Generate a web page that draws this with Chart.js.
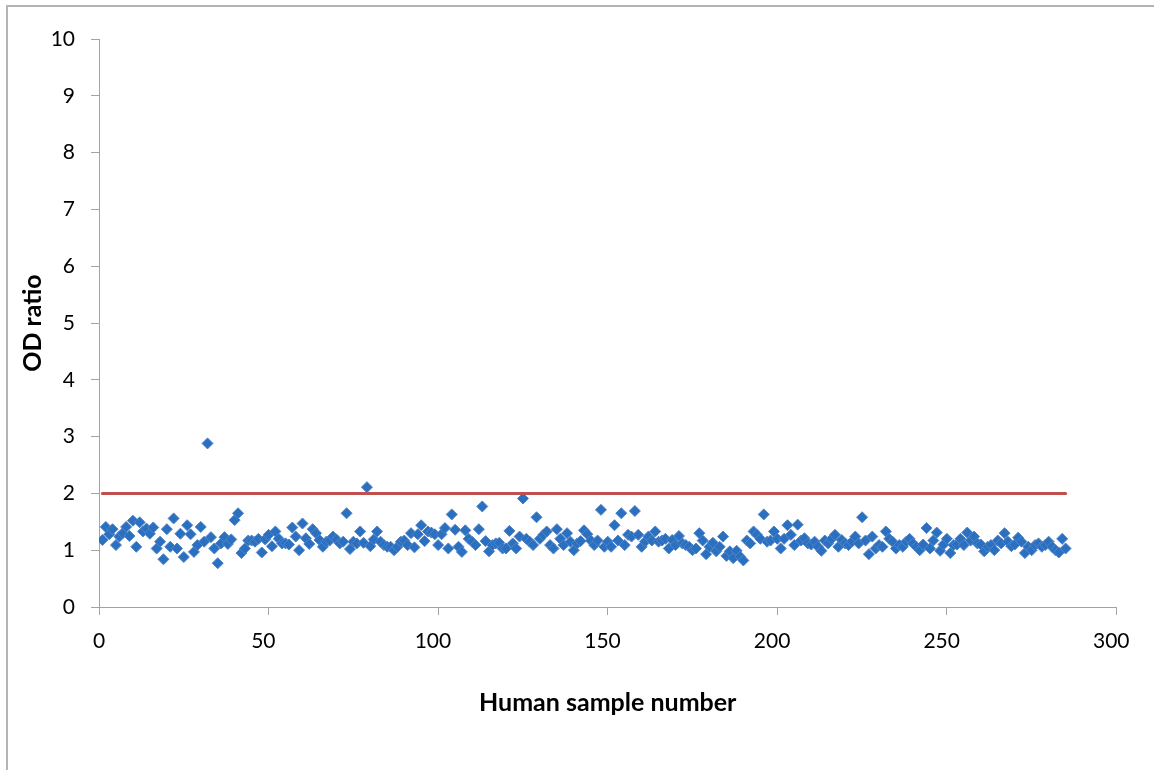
<!DOCTYPE html>
<html>
<head>
<meta charset="utf-8">
<script src="https://cdn.jsdelivr.net/npm/chart.js@4.4.1/dist/chart.umd.min.js"></script>
<style>
  html, body { margin: 0; padding: 0; background: #ffffff; }
  #wrap { width: 1154px; height: 770px; position: relative; }
</style>
</head>
<body>
<div id="wrap"><canvas id="c" width="1154" height="770"></canvas></div>
<script>
// ---- data ----
const odRatio = [
  1.18,1.41,1.28,1.37,1.09,1.24,1.30,1.41,1.25,1.52,1.06,1.49,1.33,1.38,1.29,1.40,1.03,1.15,0.84,1.37,1.06,1.56,1.03,1.29,0.88,1.44,1.28,0.97,1.09,
  1.41,1.15,2.88,1.23,1.03,0.77,1.12,1.23,1.11,1.19,1.53,1.65,0.95,1.03,1.17,1.17,1.15,1.20,0.96,1.19,1.27,1.07,1.33,1.20,1.12,1.12,1.10,1.40,1.24,1.00,
  1.47,1.21,1.11,1.37,1.30,1.18,1.06,1.15,1.17,1.24,1.19,1.12,1.15,1.65,1.02,1.15,1.12,1.33,1.13,2.11,1.07,1.19,1.33,1.15,1.09,1.06,1.06,1.00,1.06,
  1.15,1.17,1.09,1.30,1.05,1.28,1.44,1.16,1.33,1.31,1.28,1.09,1.28,1.39,1.03,1.63,1.36,1.06,0.97,1.35,1.20,1.15,1.09,1.37,1.77,1.16,0.98,1.09,1.12,1.13,
  1.03,1.03,1.34,1.12,1.03,1.24,1.91,1.20,1.15,1.09,1.58,1.20,1.27,1.33,1.09,1.03,1.37,1.20,1.09,1.30,1.15,1.00,1.12,1.16,1.35,1.28,1.17,1.09,1.17,
  1.71,1.06,1.15,1.06,1.44,1.17,1.65,1.09,1.27,1.24,1.69,1.27,1.06,1.15,1.24,1.17,1.33,1.15,1.17,1.20,1.03,1.18,1.09,1.25,1.12,1.09,1.06,1.00,1.03,1.30,
  1.17,0.93,1.06,1.13,0.98,1.06,1.24,0.90,0.98,0.86,0.99,0.89,0.82,1.17,1.12,1.33,1.27,1.20,1.63,1.15,1.17,1.33,1.20,1.03,1.20,1.44,1.27,1.09,1.45,
  1.17,1.21,1.12,1.10,1.15,1.06,0.99,1.17,1.12,1.20,1.27,1.06,1.18,1.12,1.09,1.15,1.24,1.12,1.58,1.17,0.93,1.24,1.03,1.09,1.06,1.33,1.20,1.15,1.03,1.09,
  1.06,1.15,1.20,1.12,1.06,1.00,1.10,1.39,1.03,1.17,1.31,0.99,1.10,1.20,0.95,1.09,1.10,1.20,1.09,1.31,1.17,1.24,1.12,1.10,0.98,1.06,1.09,1.00,1.17,
  1.12,1.30,1.15,1.07,1.10,1.22,1.15,0.95,1.06,1.00,1.09,1.12,1.06,1.09,1.15,1.06,1.00,0.96,1.20,1.03
];
const firstSample = 1;
const cutoffValue = 2;
const cutoffRange = [1, odRatio.length];
const xTicks = [0, 50, 100, 150, 200, 250, 300];
const yTicks = [0, 1, 2, 3, 4, 5, 6, 7, 8, 9, 10];
const xTitle = 'Human sample number';
const yTitle = 'OD ratio';

// ---- build library structures ----
const scatterPoints = odRatio.map((v, i) => ({ x: firstSample + i, y: v }));
const cutoffPoints = cutoffRange.map(x => ({ x: x, y: cutoffValue }));

const FONT = 'Lato, "Open Sans", "DejaVu Sans", sans-serif';
const AXIS_GRAY = '#a3a3a3';

const frame = {
  id: 'frame',
  beforeDraw(chart) {
    const ctx = chart.ctx;
    ctx.save();
    ctx.fillStyle = '#ffffff';
    ctx.fillRect(0, 0, chart.width, chart.height);
    ctx.strokeStyle = '#b4b4b4';
    ctx.lineWidth = 2;
    ctx.beginPath();
    ctx.moveTo(7, 770);
    ctx.lineTo(7, 6);
    ctx.lineTo(1154, 6);
    ctx.stroke();
    ctx.restore();
  }
};

new Chart(document.getElementById('c'), {
  type: 'scatter',
  data: {
    datasets: [
      {
        type: 'line',
        label: 'cutoff',
        data: cutoffPoints,
        borderColor: '#c0504d',
        borderWidth: 3,
        borderCapStyle: 'round',
        pointRadius: 0,
        fill: false
      },
      {
        label: 'OD ratio',
        data: scatterPoints,
        pointStyle: 'rectRot',
        pointRadius: 5.5,
        backgroundColor: '#2a6fc0',
        borderColor: '#4f85c6',
        borderWidth: 1
      }
    ]
  },
  options: {
    responsive: false,
    animation: false,
    devicePixelRatio: 1,
    layout: { padding: { left: 0, top: 39, right: 37, bottom: 0 } },
    plugins: { legend: { display: false }, tooltip: { enabled: false } },
    scales: {
      x: {
        type: 'linear',
        min: 0, max: 300,
        afterBuildTicks(scale) { scale.ticks = xTicks.map(v => ({ value: v })); },
        afterFit(scale) { scale.height = 163; },
        grid: { display: true, drawOnChartArea: false, drawTicks: true, tickLength: 8, color: AXIS_GRAY },
        border: { display: true, color: AXIS_GRAY, width: 1 },
        ticks: {
          color: '#000', font: { family: FONT, size: 21 }, padding: 14, maxRotation: 0,
          callback: (v) => (v === 0 ? '0' : String(v) + '\u2002')
        },
        title: { display: true, text: xTitle, color: '#000', font: { family: FONT, size: 25, weight: 'bold' }, padding: { top: 0, bottom: 52 } }
      },
      y: {
        type: 'linear',
        min: 0, max: 10,
        afterBuildTicks(scale) { scale.ticks = yTicks.map(v => ({ value: v })); },
        afterFit(scale) { scale.width = 99; },
        grid: { display: true, drawOnChartArea: false, drawTicks: true, tickLength: 8, color: AXIS_GRAY },
        border: { display: true, color: AXIS_GRAY, width: 1 },
        ticks: { color: '#000', font: { family: FONT, size: 21 }, padding: 16 },
        title: { display: true, text: yTitle, color: '#000', font: { family: FONT, size: 25, weight: 'bold' }, padding: { top: 18, bottom: 0 } }
      }
    }
  },
  plugins: [frame]
});
</script>
</body>
</html>
